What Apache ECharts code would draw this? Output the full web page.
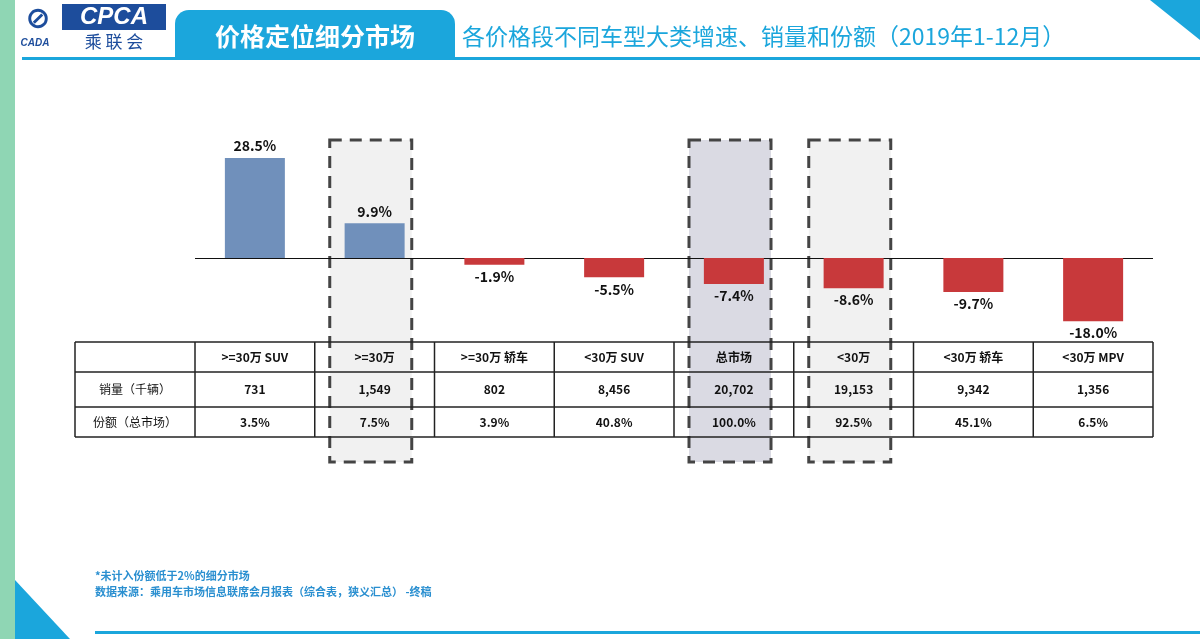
<!DOCTYPE html>
<html>
<head>
<meta charset="utf-8">
<script src="https://cdn.jsdelivr.net/npm/echarts@6/dist/echarts.min.js"></script>
<style>html,body{margin:0;padding:0;background:#fff}#main{width:1200px;height:639px}</style>
</head>
<body>
<div id="main"></div>
<script>
// 各价格段数据
const categories = ['>=30万 SUV', '>=30万', '>=30万 轿车', '<30万 SUV', '总市场', '<30万', '<30万 轿车', '<30万 MPV'];
const growth = [28.5, 9.9, -1.9, -5.5, -7.4, -8.6, -9.7, -18.0];
const sales = ['731', '1,549', '802', '8,456', '20,702', '19,153', '9,342', '1,356'];
const share = ['3.5%', '7.5%', '3.9%', '40.8%', '100.0%', '92.5%', '45.1%', '6.5%'];
const rowLabels = ['销量（千辆）', '份额（总市场）'];
const highlight = [1, 4, 5];

const font = '"Noto Sans CJK SC", sans-serif';
const colL = 195, colW = 119.75, tblL = 75;
const rowY = [342, 372, 407, 437];

let g = [];
// 页面装饰
g.push({ type: 'rect', shape: { x: 0, y: 0, width: 15, height: 639 }, style: { fill: '#8fd6b4' } });
g.push({ type: 'rect', shape: { x: 175, y: 10, width: 280, height: 50, r: [14, 14, 0, 0] }, style: { fill: '#1ba6dc' } });
g.push({ type: 'rect', shape: { x: 22, y: 57, width: 1178, height: 3 }, style: { fill: '#1ba6dc' } });
g.push({ type: 'rect', shape: { x: 95, y: 631, width: 1105, height: 3 }, style: { fill: '#1ba6dc' } });
g.push({ type: 'polygon', shape: { points: [[1150, 0], [1200, 0], [1200, 40]] }, style: { fill: '#1ba6dc' } });
g.push({ type: 'polygon', shape: { points: [[15, 580], [15, 639], [70, 639]] }, style: { fill: '#1ba6dc' } });
g.push({ type: 'text', style: { x: 315, y: 36, text: '价格定位细分市场', fill: '#fff', font: 'bold 25px ' + font, align: 'center', verticalAlign: 'middle' } });
g.push({ type: 'text', style: { x: 462, y: 36, text: '各价格段不同车型大类增速、销量和份额（2019年1-12月）', fill: '#1ba6dc', font: '23px ' + font, verticalAlign: 'middle' } });
g.push({ type: 'rect', shape: { x: 62, y: 4, width: 104, height: 26 }, style: { fill: '#1d4d9c' } });
g.push({ type: 'text', style: { x: 114, y: 17, text: 'CPCA', fill: '#fff', font: 'italic bold 24px "Liberation Sans"', align: 'center', verticalAlign: 'middle' } });
g.push({ type: 'text', style: { x: 114, y: 42, text: '乘 联 会', fill: '#1d4d9c', font: '17px ' + font, align: 'center', verticalAlign: 'middle' } });
g.push({ type: 'text', style: { x: 38, y: 20, text: '⊘', fill: '#1d4d9c', font: 'bold 30px "DejaVu Sans"', align: 'center', verticalAlign: 'middle' } });
g.push({ type: 'text', style: { x: 35, y: 43, text: 'CADA', fill: '#1d4d9c', font: 'italic bold 10px "Liberation Sans"', align: 'center', verticalAlign: 'middle' } });

// 高亮列
highlight.forEach(i => {
  const x = colL + i * colW + 15;
  g.push({ type: 'rect', z: 0, shape: { x: x, y: 140, width: 82, height: 322 }, style: { fill: i === 4 ? 'rgba(205,205,218,0.75)' : 'rgba(232,232,232,0.6)', stroke: '#444', lineWidth: 3, lineDash: [12, 8] } });
});

// 表格
const tblR = colL + 8 * colW;
rowY.forEach(y => g.push({ type: 'line', z: 10, shape: { x1: tblL, y1: y, x2: tblR, y2: y }, style: { stroke: '#222', lineWidth: 1.5 } }));
[tblL].concat(categories.map((c, i) => colL + i * colW), [tblR]).forEach(x =>
  g.push({ type: 'line', z: 10, shape: { x1: x, y1: rowY[0], x2: x, y2: rowY[3] }, style: { stroke: '#222', lineWidth: 1.5 } }));
const cell = (x, y, t, bold) => g.push({ type: 'text', z: 11, style: { x: x, y: y, text: t, fill: '#111', font: (bold ? 'bold ' : '') + '12px ' + font, align: 'center', verticalAlign: 'middle' } });
categories.forEach((c, i) => {
  const cx = colL + (i + 0.5) * colW;
  cell(cx, (rowY[0] + rowY[1]) / 2, c, true);
  cell(cx, (rowY[1] + rowY[2]) / 2, sales[i], true);
  cell(cx, (rowY[2] + rowY[3]) / 2, share[i], true);
});
rowLabels.forEach((t, r) => cell((tblL + colL) / 2, (rowY[r + 1] + rowY[r + 2]) / 2, t, false));

g.push({ type: 'text', style: { x: 95, y: 576, text: '*未计入份额低于2%的细分市场', fill: '#2a8fd0', font: 'bold 11px ' + font, verticalAlign: 'middle' } });
g.push({ type: 'text', style: { x: 95, y: 592, text: '数据来源：乘用车市场信息联席会月报表（综合表，狭义汇总） -终稿', fill: '#2a8fd0', font: 'bold 11px ' + font, verticalAlign: 'middle' } });

let myChart = echarts.init(document.getElementById('main'));
myChart.setOption({
  animation: false,
  grid: { left: colL, right: 1200 - tblR, top: 152.7, height: 175.5 },
  xAxis: { type: 'category', data: categories, axisLine: { show: false }, axisTick: { show: false }, axisLabel: { show: false } },
  yAxis: { type: 'value', min: -20, max: 30, show: false, splitLine: { show: false } },
  graphic: g,
  series: [{
    type: 'bar', barWidth: 60, z: 5,
    data: growth.map(v => ({ value: v, itemStyle: { color: v >= 0 ? '#7090bb' : '#c8393b' } })),
    label: { show: true, formatter: p => p.value.toFixed(1) + '%', fontFamily: font, fontWeight: 'bold', fontSize: 14, color: '#111',
      position: 'top' },
    labelLayout: p => null,
    markLine: { silent: true, symbol: 'none', label: { show: false }, lineStyle: { color: '#111', type: 'solid', width: 1.2 }, data: [{ yAxis: 0 }] }
  }]
});
// 负值标签放在柱下方
myChart.setOption({ series: [{ data: growth.map(v => ({ value: v, itemStyle: { color: v >= 0 ? '#7090bb' : '#c8393b' }, label: { position: v >= 0 ? 'top' : 'bottom' } })) }] });
</script>
</body>
</html>
